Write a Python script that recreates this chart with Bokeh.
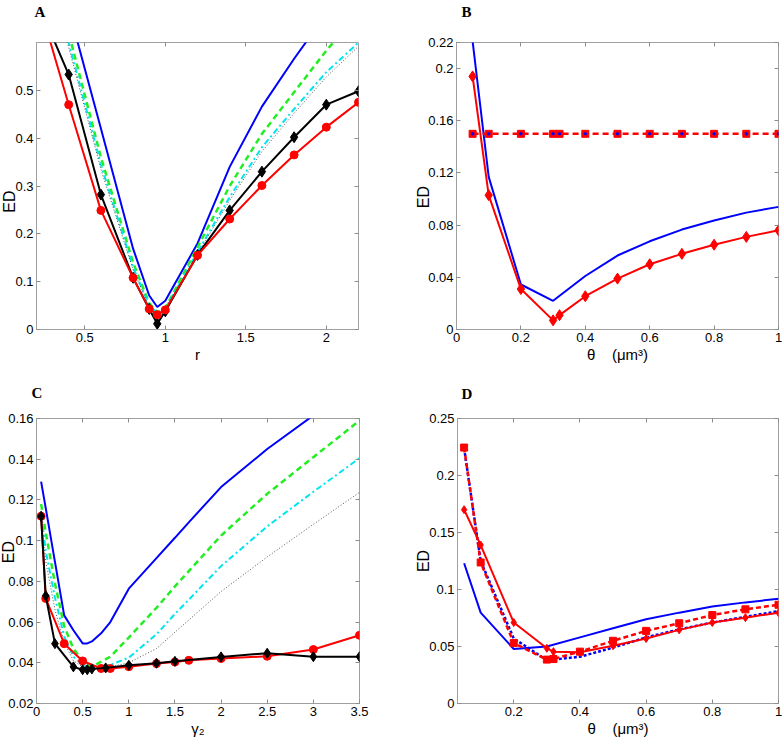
from bokeh.plotting import figure
from bokeh.layouts import column, row
from bokeh.models import FixedTicker, LinearAxis, Range1d, CustomJSTickFormatter
from bokeh.embed import file_html
from bokeh.resources import INLINE

# ---------------- Panel A data ----------------
a_x = [0.2, 0.4, 0.6, 0.8, 0.9, 0.95, 1.0, 1.2, 1.4, 1.6, 1.8, 2.0, 2.2]
a_red = [0.70, 0.470, 0.249, 0.108, 0.043, 0.031, 0.041, 0.155, 0.231, 0.301, 0.365, 0.423, 0.475]
a_black = [0.69, 0.533, 0.282, 0.108, 0.043, 0.012, 0.038, 0.156, 0.249, 0.330, 0.402, 0.470, 0.498]
a_blue = [0.93, 0.67, 0.42, 0.169, 0.071, 0.047, 0.060, 0.180, 0.340, 0.466, 0.566, 0.66, 0.74]
a_green = [0.88, 0.62, 0.36, 0.14, 0.055, 0.036, 0.045, 0.172, 0.300, 0.409, 0.496, 0.583, 0.66]
a_cyan = [0.86, 0.60, 0.345, 0.13, 0.050, 0.035, 0.044, 0.162, 0.277, 0.381, 0.461, 0.538, 0.60]
a_dot = [0.85, 0.59, 0.335, 0.125, 0.048, 0.035, 0.043, 0.158, 0.270, 0.372, 0.452, 0.528, 0.592]
a_xticks = [0.5, 1, 1.5, 2]
a_yticks = [0, 0.1, 0.2, 0.3, 0.4, 0.5]

# ---------------- Panel B data ----------------
b_x = [0.05, 0.1, 0.2, 0.3, 0.32, 0.4, 0.5, 0.6, 0.7, 0.8, 0.9, 1.0]
b_red = [0.194, 0.103, 0.031, 0.007, 0.011, 0.0255, 0.039, 0.050, 0.058, 0.065, 0.071, 0.076]
b_const = [0.15, 0.15, 0.15, 0.15, 0.15, 0.15, 0.15, 0.15, 0.15, 0.15, 0.15, 0.15]
b_blue_x = [0.05, 0.1, 0.2, 0.3, 0.4, 0.5, 0.6, 0.7, 0.8, 0.9, 1.0]
b_blue = [0.221, 0.117, 0.0345, 0.022, 0.041, 0.0567, 0.0676, 0.0766, 0.0835, 0.0896, 0.094]
b_xticks = [0, 0.2, 0.4, 0.6, 0.8, 1]
b_yticks = [0, 0.04, 0.08, 0.12, 0.16, 0.2, 0.22]

# ---------------- Panel C data ----------------
c_red_x = [0.05, 0.1, 0.3, 0.5, 0.7, 0.8, 1.0, 1.3, 1.5, 1.65, 2.0, 2.5, 3.0, 3.5]
c_red = [0.112, 0.0716, 0.0494, 0.0409, 0.0372, 0.0372, 0.0381, 0.0396, 0.0404, 0.0412, 0.0421, 0.0432, 0.0465, 0.0535]
c_black_x = [0.05, 0.1, 0.2, 0.4, 0.5, 0.55, 0.6, 0.75, 1.0, 1.3, 1.5, 2.0, 2.5, 3.0, 3.5]
c_black = [0.112, 0.0729, 0.0494, 0.038, 0.0366, 0.0366, 0.0370, 0.0375, 0.0388, 0.0398, 0.0407, 0.0429, 0.0447, 0.0430, 0.0430]
c_x = [0.05, 0.1, 0.2, 0.3, 0.4, 0.5, 0.55, 0.6, 0.7, 0.8, 1.0, 1.3, 1.5, 1.65, 2.0, 2.5, 3.0, 3.5]
c_blue = [0.129, 0.116, 0.0896, 0.0633, 0.056, 0.0495, 0.0495, 0.0505, 0.0545, 0.060, 0.0764, 0.0914, 0.1014, 0.109, 0.1263, 0.145, 0.1615, 0.178]
c_green = [0.118, 0.104, 0.079, 0.058, 0.047, 0.041, 0.039, 0.038, 0.0405, 0.0430, 0.0524, 0.067, 0.0775, 0.085, 0.1025, 0.123, 0.141, 0.159]
c_cyan = [0.114, 0.095, 0.072, 0.053, 0.043, 0.039, 0.038, 0.0375, 0.0385, 0.039, 0.0425, 0.054, 0.064, 0.071, 0.0875, 0.107, 0.124, 0.1405]
c_dot = [0.110, 0.090, 0.066, 0.050, 0.041, 0.038, 0.037, 0.037, 0.037, 0.038, 0.040, 0.047, 0.055, 0.061, 0.075, 0.092, 0.108, 0.1237]
c_xticks = [0, 0.5, 1, 1.5, 2, 2.5, 3, 3.5]
c_yticks = [0.02, 0.04, 0.06, 0.08, 0.1, 0.12, 0.14, 0.16]

# ---------------- Panel D data ----------------
d_x = [0.05, 0.1, 0.2, 0.3, 0.32, 0.4, 0.5, 0.6, 0.7, 0.8, 0.9, 1.0]
d_red_sq = [0.2245, 0.1237, 0.053, 0.0385, 0.039, 0.0455, 0.055, 0.0637, 0.0704, 0.0776, 0.0826, 0.0866]
d_red_dm = [0.170, 0.139, 0.071, 0.0484, 0.0455, 0.0449, 0.0507, 0.057, 0.0646, 0.071, 0.0753, 0.0797]
d_blue_x = [0.05, 0.1, 0.2, 0.3, 0.4, 0.5, 0.6, 0.7, 0.8, 0.9, 1.0]
d_blue = [0.123, 0.0797, 0.0478, 0.050, 0.058, 0.066, 0.0739, 0.0797, 0.085, 0.0887, 0.0918]
d_blue_dash = [0.224, 0.125, 0.057, 0.038, 0.041, 0.049, 0.058, 0.065, 0.071, 0.076, 0.081]
d_xticks = [0.2, 0.4, 0.6, 0.8, 1]
d_yticks = [0, 0.05, 0.1, 0.15, 0.2, 0.25]

SANS = "Liberation Sans"
SERIF = "Liberation Serif"
GRAY = "#a0a0a0"
TICKGRAY = "#8c8c8c"
RED = "#ff0000"
BLUE = "#0000ff"
GREEN = "#22ee22"
CYAN = "#00e5ee"
NB = "\u00a0"
THETA_LABEL = "θ" + NB * 4 + "(μm³)"


def make_fig(w, h, xr, yr, xt, yt, xlabel, ylabel, letter, borders, letter_offset,
             letter_standoff, ed_standoff):
    l, r, t, b = borders
    p = figure(width=w, height=h, x_range=Range1d(*xr), y_range=Range1d(*yr),
               output_backend="svg", toolbar_location=None, title=letter,
               min_border_left=l, min_border_right=r, min_border_top=t, min_border_bottom=b)
    p.grid.visible = False
    p.outline_line_color = GRAY
    p.outline_line_width = 1
    p.background_fill_color = "white"
    p.border_fill_color = "white"
    p.title.align = "left"
    p.title.offset = letter_offset
    p.title.text_font = SERIF
    p.title.text_font_style = "bold"
    p.title.text_font_size = "15px"
    p.title.text_color = "black"
    p.title.standoff = letter_standoff
    for ax, ticks in ((p.xaxis[0], xt), (p.yaxis[0], yt)):
        ax.ticker = FixedTicker(ticks=ticks)
        ax.formatter = CustomJSTickFormatter(code="return String(Math.round(tick*1000)/1000);")
        ax.major_tick_in = 4
        ax.major_tick_out = 0
        ax.minor_tick_line_color = None
        ax.axis_line_color = GRAY
        ax.major_tick_line_color = TICKGRAY
        ax.major_label_text_font = SANS
        ax.major_label_text_font_size = "13px"
        ax.major_label_text_color = "black"
        ax.major_label_standoff = 3
        ax.axis_label_text_font = SANS
        ax.axis_label_text_font_size = "15px"
        ax.axis_label_text_font_style = "normal"
        ax.axis_label_text_color = "black"
        ax.axis_label_standoff = 1
    p.xaxis[0].axis_label = xlabel
    p.yaxis[0].axis_label = ylabel
    p.yaxis[0].axis_label_text_font_size = "16px"
    p.yaxis[0].axis_label_standoff = ed_standoff
    blank = "return '';"
    top = LinearAxis(ticker=FixedTicker(ticks=xt), formatter=CustomJSTickFormatter(code=blank),
                     major_tick_in=4, major_tick_out=0, minor_tick_line_color=None,
                     axis_line_color=None, major_tick_line_color=TICKGRAY, major_label_standoff=0)
    right = LinearAxis(ticker=FixedTicker(ticks=yt), formatter=CustomJSTickFormatter(code=blank),
                       major_tick_in=4, major_tick_out=0, minor_tick_line_color=None,
                       axis_line_color=None, major_tick_line_color=TICKGRAY, major_label_standoff=0)
    p.add_layout(top, "above")
    p.add_layout(right, "right")
    return p


# Top-row figures start 21px above the page (and A/C 8px left of it) so that the
# panel letters and the ED labels can sit as close to the edge as in the reference.
# ---- A ----
pA = make_fig(400, 391, (0.2, 2.2), (0, 0.6), a_xticks, a_yticks, "r", "ED" + NB * 7, "A",
              (44, 34, 62, 41), -2, 45, -6)
pA.margin = (-21, 0, 0, -8)
pA.line(a_x, a_blue, line_color=BLUE, line_width=2)
pA.line(a_x, a_green, line_color=GREEN, line_width=2.5, line_dash="6 4")
pA.line(a_x, a_cyan, line_color=CYAN, line_width=2, line_dash="6 3 2 3")
pA.line(a_x, a_dot, line_color="#555555", line_width=1, line_dash="1 2")
pA.line(a_x, a_black, line_color="black", line_width=2)
pA.scatter(a_x, a_black, marker="diamond", size=11, color="black")
pA.line(a_x, a_red, line_color=RED, line_width=2)
pA.scatter(a_x, a_red, marker="circle", size=8, color=RED)

# ---- B ----
pB = make_fig(392, 391, (0, 1), (0, 0.22), b_xticks, b_yticks, THETA_LABEL, "ED" + NB * 5, "B",
              (64, 6, 62, 41), 5, 45, -7)
pB.margin = (-21, 0, 0, 0)
pB.line(b_blue_x, b_blue, line_color=BLUE, line_width=2)
pB.line(b_x, b_const, line_color=RED, line_width=2.5, line_dash="6 4")
pB.scatter(b_x, b_const, marker="square", size=7, color=RED)
pB.scatter(b_x, b_const, marker="circle", size=2.5, color=BLUE)
pB.line(b_x, b_red, line_color=RED, line_width=2)
pB.scatter(b_x, b_red, marker="diamond", size=11, color=RED)

# ---- C ----
pC = make_fig(400, 378, (0, 3.5), (0.02, 0.16), c_xticks, c_yticks, "γ₂", NB * 4 + "ED", "C",
              (44, 33, 53, 40), -5, 35, -12)
pC.margin = (-5, 0, 0, -8)
pC.xaxis[0].axis_label_text_font_size = "17px"
pC.line(c_x, c_dot, line_color="#555555", line_width=1, line_dash="1 2")
pC.line(c_x, c_cyan, line_color=CYAN, line_width=2, line_dash="6 3 2 3")
pC.line(c_x, c_green, line_color=GREEN, line_width=2.5, line_dash="6 4")
pC.line(c_x, c_blue, line_color=BLUE, line_width=2)
pC.line(c_red_x, c_red, line_color=RED, line_width=2)
pC.scatter(c_red_x, c_red, marker="circle", size=8, color=RED)
pC.line(c_black_x, c_black, line_color="black", line_width=2)
pC.scatter(c_black_x, c_black, marker="diamond", size=10, color="black")

# ---- D ----
pD = make_fig(392, 378, (0.03, 1), (0, 0.25), d_xticks, d_yticks, THETA_LABEL, "ED", "D",
              (65, 6, 52, 38), 4, 34, -6)
pD.margin = (-5, 0, 0, 0)
pD.line(d_blue_x, d_blue, line_color=BLUE, line_width=2)
pD.line(d_blue_x, d_blue_dash, line_color=BLUE, line_width=2.5, line_dash="3 2")
pD.line(d_x, d_red_sq, line_color=RED, line_width=2.5, line_dash="5 3")
pD.scatter(d_x, d_red_sq, marker="square", size=7, color=RED)
pD.line(d_x, d_red_dm, line_color=RED, line_width=2)
pD.scatter(d_x, d_red_dm, marker="diamond", size=8, color=RED)

layout = column(row(pA, pB), row(pC, pD))

with open("out.html", "w") as f:
    f.write(file_html(layout, INLINE))
